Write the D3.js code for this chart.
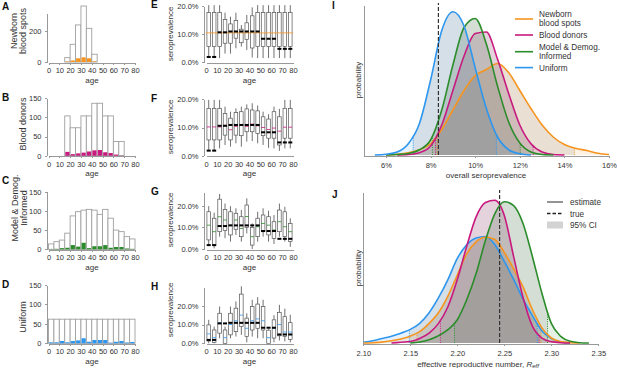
<!DOCTYPE html>
<html>
<head>
<meta charset="utf-8">
<script src="https://cdn.jsdelivr.net/npm/d3@7"></script>
<style>
  body { margin: 0; background: #fff; }
  svg { font-family: "Liberation Sans", Arial, sans-serif; }
  .axis path, .axis line { stroke: #999; shape-rendering: crispEdges; }
  .axis text { fill: #333; font-size: 7.5px; }
  .lbl { fill: #333; font-size: 8px; }
  .ylbl { fill: #333; font-size: 9px; }
  .letter { font-size: 10px; font-weight: bold; fill: #111; }
  .leg { fill: #333; font-size: 8.2px; }
</style>
</head>
<body>
<svg id="fig" width="617" height="368"></svg>
<script>
// ---- colours ----
var cOrange = "#F7941E", cMagenta = "#C8197F", cGreen = "#2B8C2B", cBlue = "#2D96EE";

// ---- left column: sample counts per 5-year age bin ----
var binStart = [0, 5, 10, 15, 20, 25, 30, 35, 40, 45, 50, 55, 60, 65, 70, 75];
var newbornBins = [15, 20, 25, 30, 35, 40];
var newbornN   = [28, 114, 239, 361, 217, 50];
var newbornPos = [3, 10, 24, 30, 24, 4];
var donorBins = [15, 20, 25, 30, 35, 40, 45, 50, 55, 60, 65];
var donorN   = [104, 73, 73, 104, 104, 137, 137, 104, 104, 37, 37];
var donorPos = [10, 4, 6, 8, 11, 14, 15, 9, 7, 3, 0.5];
var modelN   = [14, 20, 24, 42, 87, 98, 102, 104, 102, 91, 104, 81, 50, 46, 33, 27];
var modelPos = [0.5, 1, 3, 4, 11, 7, 17, 3, 8, 8, 11, 4, 6, 6, 2, 1];
var uniformN   = [62, 62, 62, 62, 62, 62, 62, 62, 62, 62, 62, 62, 62, 62, 62, 62];
var uniformPos = [2.5, 2.5, 6, 2.5, 6, 7.5, 13, 4, 8.5, 8.5, 8.5, 1.5, 4, 6, 2, 3.5];

// ---- middle column: posterior seroprevalence by age bin (%) ----
var trueSero = [1.8, 1.8, 10.6, 10.6, 10.9, 10.9, 10.9, 10.9, 10.9, 10.9, 8.3, 8.3, 8.3, 4.7, 4.7, 4.7];

var eHi  = [20.3, 20.3, 20.3, 17.6, 16.2, 17.6, 13.2, 16.8, 19.5, 20.3, 20.3, 20.3, 20.3, 20.3, 20.3, 20.3];
var eQ3  = [17.7, 17.7, 17.7, 15.2, 13.6, 14.8, 11.7, 14.0, 16.5, 17.7, 17.7, 17.7, 17.7, 17.7, 17.7, 17.7];
var eMed = [10.4, 10.4, 10.4, 10.4, 10.4, 10.4, 10.4, 10.4, 10.4, 10.4, 10.4, 10.4, 10.4, 10.4, 10.4, 10.4];
var eQ1  = [5.5, 5.5, 5.5, 6.7, 6.7, 8.5, 6.9, 8.1, 5.0, 5.5, 5.5, 5.5, 5.5, 5.5, 5.5, 5.5];
var eLo  = [1.4, 1.4, 1.4, 3.0, 3.0, 4.9, 5.5, 4.3, 1.6, 1.4, 1.4, 1.4, 1.4, 1.4, 1.4, 1.4];

var fHi  = [19.8, 19.8, 19.8, 17.4, 15.6, 16.8, 17.4, 18.2, 18.6, 17.8, 15.6, 14.7, 17.4, 16.6, 19.8, 19.8];
var fQ3  = [16.8, 16.8, 16.8, 15.0, 13.3, 15.3, 15.6, 16.6, 16.2, 15.9, 13.8, 13.0, 15.6, 13.8, 16.8, 16.8];
var fMed = [10.2, 10.2, 10.2, 10.8, 9.2, 10.4, 10.8, 10.4, 11.2, 10.6, 10.0, 9.3, 9.8, 8.7, 10.1, 10.1];
var fQ1  = [5.6, 5.6, 5.6, 7.3, 5.6, 7.3, 7.1, 8.5, 8.5, 7.9, 7.1, 6.2, 6.2, 3.8, 6.2, 6.2];
var fLo  = [2.0, 2.0, 2.6, 3.8, 3.2, 4.4, 3.2, 5.0, 5.2, 4.4, 3.8, 2.8, 2.6, 1.7, 2.6, 2.6];

var gHi  = [19.8, 16.8, 25.4, 21.0, 19.8, 18.8, 18.0, 23.4, 11.8, 17.2, 18.8, 17.7, 15.7, 21.0, 19.5, 14.2];
var gQ3  = [17.2, 14.2, 23.0, 18.3, 17.2, 16.5, 14.9, 20.3, 10.0, 14.2, 15.7, 14.9, 12.6, 18.0, 17.2, 11.8];
var gMed = [11.0, 8.0, 14.9, 13.4, 11.0, 13.4, 9.5, 15.0, 5.7, 10.3, 11.8, 11.0, 8.8, 12.6, 10.3, 8.0];
var gQ1  = [4.2, 1.8, 8.0, 8.5, 6.5, 9.1, 5.7, 10.0, 1.8, 5.7, 8.0, 6.5, 4.9, 8.0, 5.7, 3.4];
var gLo  = [1.8, 0.3, 5.7, 5.0, 3.4, 6.5, 3.4, 7.2, 0.0, 3.4, 5.7, 3.4, 2.3, 5.7, 3.4, 1.0];

var hHi  = [12.5, 8.9, 19.6, 8.9, 19.6, 22.3, 30.4, 16.0, 23.2, 24.6, 23.2, 7.5, 15.0, 20.5, 18.5, 15.2];
var hQ3  = [9.8, 7.1, 16.0, 7.1, 16.0, 18.7, 26.2, 13.4, 19.6, 20.9, 19.6, 7.0, 12.5, 16.5, 14.2, 11.0];
var hMed = [5.0, 3.0, 11.0, 3.0, 10.0, 12.0, 15.0, 8.0, 12.0, 13.0, 12.0, 3.0, 8.0, 10.0, 6.0, 6.0];
var hQ1  = [1.2, 0.5, 5.4, 0.0, 4.5, 6.2, 8.9, 3.6, 7.1, 8.0, 7.1, 0.0, 2.8, 4.0, 3.6, 2.0];
var hLo  = [0.0, 0.0, 2.7, 0.0, 2.7, 3.6, 4.5, 0.5, 3.6, 2.7, 2.7, 0.0, 0.5, 1.5, 1.0, 0.5];

// ---- right column: posterior densities ----
var seroGrid = [5.5, 6, 6.5, 7, 7.5, 8, 8.5, 9, 9.5, 10, 10.5, 11, 11.5, 12, 12.5, 13, 13.5, 14, 14.5, 15, 15.5, 16];
var seroOrange  = [0, 0, 0.005, 0.015, 0.035, 0.075, 0.17, 0.3, 0.43, 0.53, 0.57, 0.61, 0.55, 0.43, 0.31, 0.2, 0.12, 0.07, 0.045, 0.03, 0.012, 0.003];
var seroMagenta = [0, 0, 0, 0.003, 0.015, 0.06, 0.2, 0.43, 0.66, 0.81, 0.82, 0.64, 0.41, 0.2, 0.075, 0.02, 0.003, 0, 0, 0, 0, 0];
var seroGreen   = [0, 0, 0.003, 0.01, 0.035, 0.1, 0.3, 0.6, 0.85, 0.91, 0.74, 0.46, 0.22, 0.08, 0.02, 0.003, 0, 0, 0, 0, 0, 0];
var seroBlue    = [0, 0.005, 0.02, 0.075, 0.21, 0.5, 0.83, 0.955, 0.86, 0.58, 0.31, 0.12, 0.035, 0.008, 0, 0, 0, 0, 0, 0, 0, 0];
var seroCI = {orange: [8.3, 14.45], magenta: [8.22, 12.6], green: [8.08, 12.02], blue: [7.22, 10.95]};
var seroTrue = 8.35;
var seroTicks = [6, 8, 10, 12, 14, 16];

var reffGrid = [2.10, 2.11, 2.12, 2.13, 2.14, 2.15, 2.16, 2.17, 2.18, 2.19, 2.20, 2.21, 2.22, 2.23, 2.24, 2.25, 2.26, 2.27, 2.28, 2.29, 2.30, 2.31, 2.32, 2.33, 2.34, 2.35];
var reffBlue    = [0.005, 0.015, 0.03, 0.045, 0.065, 0.09, 0.13, 0.2, 0.3, 0.42, 0.56, 0.65, 0.695, 0.705, 0.65, 0.54, 0.42, 0.29, 0.18, 0.08, 0.03, 0.007, 0, 0, 0, 0];
var reffOrange  = [0, 0.002, 0.006, 0.015, 0.027, 0.045, 0.075, 0.13, 0.2, 0.31, 0.45, 0.59, 0.67, 0.70, 0.685, 0.6, 0.49, 0.37, 0.22, 0.1, 0.033, 0.009, 0.002, 0, 0, 0];
var reffMagenta = [0, 0, 0, 0, 0.005, 0.01, 0.03, 0.065, 0.13, 0.24, 0.42, 0.64, 0.835, 0.93, 0.945, 0.845, 0.57, 0.3, 0.11, 0.033, 0.009, 0.002, 0, 0, 0, 0];
var reffGreen   = [0, 0, 0, 0, 0, 0, 0.007, 0.022, 0.048, 0.088, 0.154, 0.286, 0.46, 0.68, 0.857, 0.935, 0.91, 0.79, 0.57, 0.33, 0.13, 0.044, 0.011, 0.002, 0, 0];
var reffCI = {orange: [2.157, 2.289], magenta: [2.182, 2.287], green: [2.197, 2.296], blue: [2.149, 2.285]};
var reffTrue = 2.245;
var reffTicks = [2.10, 2.15, 2.20, 2.25, 2.30, 2.35];

var svg = d3.select("#fig");
var defs = svg.append("defs");

function letter(x, y, t) {
  svg.append("text").attr("class", "letter").attr("x", x).attr("y", y).text(t);
}
function vtext(x, y, t, cls) {
  svg.append("text").attr("class", cls)
    .attr("transform", "translate(" + x + "," + y + ") rotate(-90)")
    .attr("text-anchor", "middle").text(t);
}

// ---------- histogram panels ----------
function histPanel(cfg) {
  var x = d3.scaleLinear().domain([0, 80]).range([48.5, 135]);
  var y = d3.scaleLinear().domain([0, cfg.yMax]).range([cfg.y0, cfg.yTop]);
  var g = svg.append("g");
  var data = cfg.bins.map(function(b, i) { return {s: b, n: cfg.n[i], p: cfg.pos[i]}; });

  g.selectAll(".bar").data(data).enter().append("rect")
    .attr("x", function(d) { return x(d.s); })
    .attr("width", function(d) { return x(d.s + 5) - x(d.s); })
    .attr("y", function(d) { return y(d.n); })
    .attr("height", function(d) { return y(0) - y(d.n); })
    .style("fill", "#fff").style("stroke", "#a0a0a0").style("stroke-width", 0.9);

  g.selectAll(".pos").data(data).enter().append("rect")
    .attr("x", function(d) { return x(d.s) + 0.6; })
    .attr("width", function(d) { return x(d.s + 5) - x(d.s) - 1.2; })
    .attr("y", function(d) { return y(d.p); })
    .attr("height", function(d) { return y(0) - y(d.p); })
    .style("fill", cfg.color);

  g.append("g").attr("class", "axis")
    .attr("transform", "translate(46.5,0)")
    .call(d3.axisLeft(y).tickValues(cfg.ticks).tickSize(2).tickSizeOuter(0).tickPadding(3));
  g.append("g").attr("class", "axis")
    .attr("transform", "translate(0," + (cfg.y0 + 0.5) + ")")
    .call(d3.axisBottom(x).tickValues([0, 10, 20, 30, 40, 50, 60, 70, 80]).tickSize(2).tickSizeOuter(0).tickPadding(3));

  svg.append("text").attr("class", "lbl").attr("x", 92).attr("y", cfg.y0 + 20.5)
    .attr("text-anchor", "middle").text("age");
  cfg.ylab.forEach(function(l) { vtext(l[0], cfg.ylabY, l[1], "ylbl"); });
  letter(2, cfg.letterY, cfg.letter);
}

histPanel({letter: "A", letterY: 10, bins: newbornBins, n: newbornN, pos: newbornPos, color: cOrange,
  yMax: 314, y0: 62, yTop: 13.3, ticks: [0, 200], ylab: [[16.5, "Newborn"], [25.5, "blood spots"]], ylabY: 31});
histPanel({letter: "B", letterY: 101, bins: donorBins, n: donorN, pos: donorPos, color: cMagenta,
  yMax: 150, y0: 155.7, yTop: 98.3, ticks: [0, 50, 100, 150], ylab: [[26, "Blood donors"]], ylabY: 124});
histPanel({letter: "C", letterY: 184, bins: binStart, n: modelN, pos: modelPos, color: cGreen,
  yMax: 150, y0: 249.3, yTop: 191.7, ticks: [0, 50, 100, 150], ylab: [[18.3, "Model & Demog."], [26.5, "Informed"]], ylabY: 208});
histPanel({letter: "D", letterY: 288, bins: binStart, n: uniformN, pos: uniformPos, color: cBlue,
  yMax: 150, y0: 343.3, yTop: 285, ticks: [0, 50, 100, 150], ylab: [[26, "Uniform"]], ylabY: 317});

// ---------- box-plot panels ----------
function boxPanel(cfg) {
  var x = d3.scaleLinear().domain([0, 80]).range([206, 293]);
  var y = d3.scaleLinear().domain([0, cfg.yMax]).range([cfg.y0, cfg.yTop]);
  var g = svg.append("g");
  var data = binStart.map(function(b, i) {
    return {c: x(b + 2.5), lo: cfg.lo[i], q1: cfg.q1[i], med: cfg.med[i], q3: cfg.q3[i], hi: cfg.hi[i], t: trueSero[i]};
  });
  var hw = 1.8;

  g.append("g").attr("class", "axis")
    .attr("transform", "translate(203.5,0)")
    .call(d3.axisLeft(y).tickValues([0, 10, 20]).tickSize(2).tickSizeOuter(0).tickPadding(3)
      .tickFormat(function(d) { return d.toFixed(1) + "%"; }));
  g.append("g").attr("class", "axis")
    .attr("transform", "translate(0," + (cfg.y0 + 0.5) + ")")
    .call(d3.axisBottom(x).tickValues([0, 10, 20, 30, 40, 50, 60, 70, 80]).tickSize(0).tickPadding(5));

  g.selectAll(".wh").data(data).enter().append("line")
    .attr("x1", function(d) { return d.c; }).attr("x2", function(d) { return d.c; })
    .attr("y1", function(d) { return y(d.lo); }).attr("y2", function(d) { return y(d.hi); })
    .style("stroke", "#333").style("stroke-width", 0.7);
  g.selectAll(".box").data(data).enter().append("rect")
    .attr("x", function(d) { return d.c - hw; }).attr("width", 2 * hw)
    .attr("y", function(d) { return y(d.q3); })
    .attr("height", function(d) { return y(d.q1) - y(d.q3); })
    .style("fill", "#fff").style("stroke", "#555").style("stroke-width", 0.7);
  g.selectAll(".med").data(data).enter().append("line")
    .attr("x1", function(d) { return d.c - hw - (cfg.wide ? 1 : 0); })
    .attr("x2", function(d) { return d.c + hw + (cfg.wide ? 1 : 0); })
    .attr("y1", function(d) { return y(d.med); }).attr("y2", function(d) { return y(d.med); })
    .style("stroke", cfg.color).style("stroke-width", 0.8);
  g.selectAll(".tru").data(data).enter().append("rect")
    .attr("x", function(d) { return d.c - 2; }).attr("width", 4)
    .attr("y", function(d) { return y(d.t) - 1; }).attr("height", 2)
    .style("fill", "#000");

  svg.append("text").attr("class", "lbl").attr("x", 249.5).attr("y", cfg.y0 + 20.5)
    .attr("text-anchor", "middle").text("age");
  vtext(173, cfg.labY, "seroprevalence", "lbl");
  letter(151, cfg.letterY, cfg.letter);
}

boxPanel({letter: "E", letterY: 8, y0: 62, yTop: 6, yMax: 20, labY: 34, color: cOrange, wide: true,
  lo: eLo, q1: eQ1, med: eMed, q3: eQ3, hi: eHi});
boxPanel({letter: "F", letterY: 102, y0: 155.7, yTop: 99.3, yMax: 20, labY: 127, color: cMagenta,
  lo: fLo, q1: fQ1, med: fMed, q3: fQ3, hi: fHi});
boxPanel({letter: "G", letterY: 195, y0: 249, yTop: 192.7, yMax: 26, labY: 220, color: cGreen,
  lo: gLo, q1: gQ1, med: gMed, q3: gQ3, hi: gHi});
boxPanel({letter: "H", letterY: 290, y0: 343.3, yTop: 287, yMax: 30, labY: 310, color: cBlue,
  lo: hLo, q1: hQ1, med: hMed, q3: hQ3, hi: hHi});

// ---------- density panels ----------
function interp(grid, vals, v) {
  var i = Math.max(0, Math.min(grid.length - 2, d3.bisectRight(grid, v) - 1));
  var t = (v - grid[i]) / (grid[i + 1] - grid[i]);
  return vals[i] * (1 - t) + vals[i + 1] * t;
}
function trimmed(grid, vals) {
  var pts = [];
  for (var i = 0; i < grid.length; i++) {
    var keep = vals[i] > 0 || (i > 0 && vals[i - 1] > 0) || (i < grid.length - 1 && vals[i + 1] > 0);
    if (keep) pts.push([grid[i], vals[i]]);
  }
  return pts;
}

function densityPanel(cfg) {
  var x = d3.scaleLinear().domain(cfg.xDomain).range(cfg.xRange);
  var y = d3.scaleLinear().domain([0, 1]).range([cfg.y0, cfg.yTop]);
  var g = svg.append("g");
  var area = d3.area().curve(d3.curveMonotoneX)
    .x(function(d) { return x(d[0]); }).y0(y(0)).y1(function(d) { return y(d[1]); });
  var line = d3.line().curve(d3.curveMonotoneX)
    .x(function(d) { return x(d[0]); }).y(function(d) { return y(d[1]); });

  cfg.series.forEach(function(s) {
    g.append("path").datum(trimmed(cfg.grid, s.vals)).attr("d", area)
      .style("fill", s.color).style("fill-opacity", 0.12);
  });
  cfg.series.forEach(function(s, k) {
    var id = cfg.key + "ci" + k;
    defs.append("clipPath").attr("id", id).append("rect")
      .attr("x", x(s.ci[0])).attr("width", x(s.ci[1]) - x(s.ci[0]))
      .attr("y", cfg.yTop - 10).attr("height", cfg.y0 - cfg.yTop + 20);
    g.append("path").datum(trimmed(cfg.grid, s.vals)).attr("d", area)
      .attr("clip-path", "url(#" + id + ")")
      .style("fill", "#7a7a7a").style("fill-opacity", 0.16);
  });
  cfg.series.forEach(function(s) {
    g.selectAll(null).data(s.ci).enter().append("line")
      .attr("x1", function(d) { return x(d); }).attr("x2", function(d) { return x(d); })
      .attr("y1", y(0)).attr("y2", function(d) { return y(interp(cfg.grid, s.vals, d)); })
      .style("stroke", s.color).style("stroke-width", 1).style("stroke-dasharray", "1,1.3");
  });
  cfg.series.forEach(function(s) {
    g.append("path").datum(trimmed(cfg.grid, s.vals)).attr("d", line)
      .style("fill", "none").style("stroke", s.color).style("stroke-width", 1.6);
  });

  g.append("line").attr("x1", x(cfg.trueVal)).attr("x2", x(cfg.trueVal))
    .attr("y1", y(0)).attr("y2", cfg.yTop - 2)
    .style("stroke", "#333").style("stroke-width", 1.2).style("stroke-dasharray", "4,2");

  g.append("g").attr("class", "axis")
    .attr("transform", "translate(" + cfg.xRange[0] + ",0)")
    .call(d3.axisLeft(y).tickValues([]).tickSizeOuter(0));
  g.append("g").attr("class", "axis")
    .attr("transform", "translate(0," + (cfg.y0 + 0.5) + ")")
    .call(d3.axisBottom(x).tickValues(cfg.ticks).tickSize(2).tickSizeOuter(0).tickPadding(5)
      .tickFormat(cfg.fmt));

  vtext(361, cfg.labY, "probability", "lbl");
  letter(332, cfg.letterY, cfg.letter);
  return g;
}

densityPanel({key: "I", letter: "I", letterY: 9, xDomain: [5, 16], xRange: [363.7, 609], y0: 155, yTop: 5,
  grid: seroGrid, trueVal: seroTrue, ticks: seroTicks, labY: 80,
  fmt: function(d) { return d + "%"; },
  series: [
    {color: cOrange, vals: seroOrange, ci: seroCI.orange},
    {color: cMagenta, vals: seroMagenta, ci: seroCI.magenta},
    {color: cGreen, vals: seroGreen, ci: seroCI.green},
    {color: cBlue, vals: seroBlue, ci: seroCI.blue}
  ]});
svg.append("text").attr("class", "lbl").attr("x", 486).attr("y", 178)
  .attr("text-anchor", "middle").text("overall seroprevalence");

densityPanel({key: "J", letter: "J", letterY: 198, xDomain: [2.10, 2.35], xRange: [363.3, 598.3], y0: 343, yTop: 192,
  grid: reffGrid, trueVal: reffTrue, ticks: reffTicks, labY: 268,
  fmt: d3.format(".2f"),
  series: [
    {color: cBlue, vals: reffBlue, ci: reffCI.blue},
    {color: cOrange, vals: reffOrange, ci: reffCI.orange},
    {color: cMagenta, vals: reffMagenta, ci: reffCI.magenta},
    {color: cGreen, vals: reffGreen, ci: reffCI.green}
  ]});
var jl = svg.append("text").attr("class", "lbl").attr("x", 478).attr("y", 366.5).attr("text-anchor", "middle");
jl.append("tspan").text("effective reproductive number, ");
jl.append("tspan").style("font-style", "italic").text("R");
jl.append("tspan").style("font-style", "italic").style("font-size", "6px").attr("dy", 1.5).text("eff");

// ---------- legends ----------
var legI = [
  {color: cOrange, lines: ["Newborn", "blood spots"], ly: 19, ty: [14, 23.4]},
  {color: cMagenta, lines: ["Blood donors"], ly: 35, ty: [35]},
  {color: cGreen, lines: ["Model & Demog.", "Informed"], ly: 51.7, ty: [47, 56.4]},
  {color: cBlue, lines: ["Uniform"], ly: 67.6, ty: [67.6]}
];
legI.forEach(function(e) {
  svg.append("line").attr("x1", 515).attr("x2", 533).attr("y1", e.ly).attr("y2", e.ly)
    .style("stroke", e.color).style("stroke-width", 1.6);
  e.lines.forEach(function(t, i) {
    svg.append("text").attr("class", "leg").attr("x", 539).attr("y", e.ty[i] + 3).text(t);
  });
});

svg.append("line").attr("x1", 547).attr("x2", 563).attr("y1", 202).attr("y2", 202)
  .style("stroke", "#666").style("stroke-width", 1.4);
svg.append("text").attr("class", "leg").attr("x", 570).attr("y", 205).text("estimate");
svg.append("line").attr("x1", 547).attr("x2", 563).attr("y1", 213.5).attr("y2", 213.5)
  .style("stroke", "#222").style("stroke-width", 1.4).style("stroke-dasharray", "3.5,2");
svg.append("text").attr("class", "leg").attr("x", 570).attr("y", 216.5).text("true");
svg.append("rect").attr("x", 547).attr("y", 221.5).attr("width", 16).attr("height", 7)
  .style("fill", "#d3d3d3");
svg.append("text").attr("class", "leg").attr("x", 570).attr("y", 228).text("95% CI");
</script>
</body>
</html>
